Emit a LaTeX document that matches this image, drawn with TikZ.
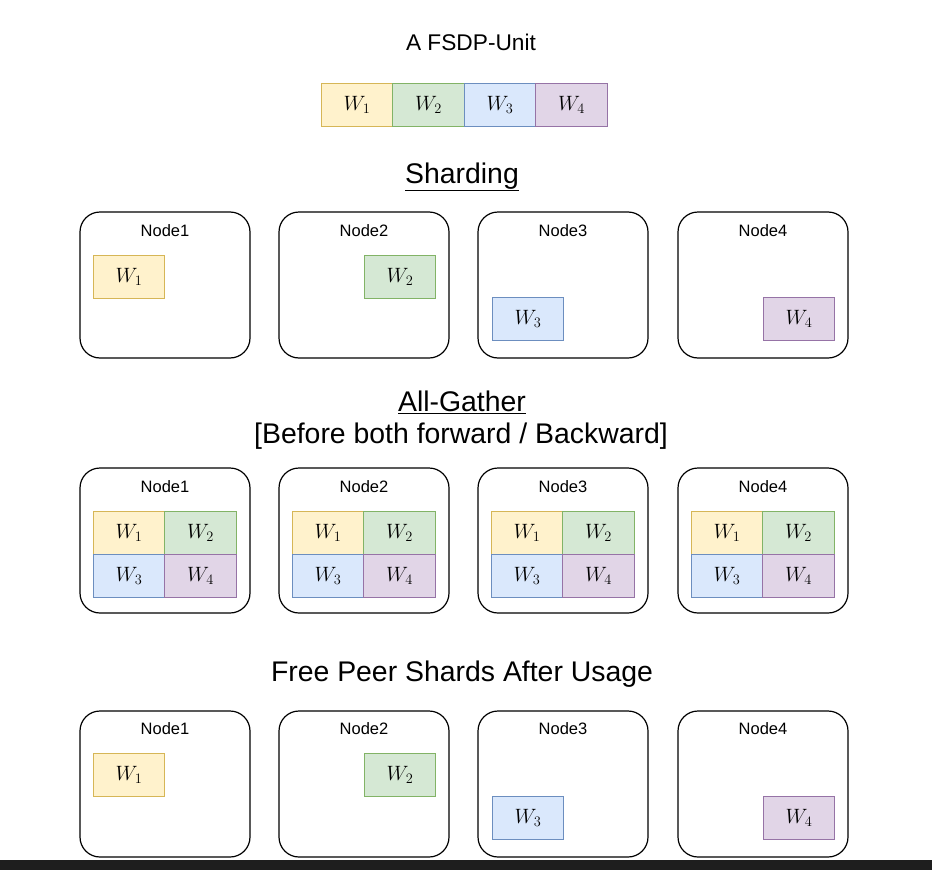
\documentclass[tikz,border=0pt]{standalone}
\usepackage{fontspec}
\setmainfont{Liberation Sans}
\definecolor{yf}{HTML}{FFF2CC}\definecolor{yd}{HTML}{D6B656}
\definecolor{gf}{HTML}{D5E8D4}\definecolor{gd}{HTML}{82B366}
\definecolor{bf}{HTML}{DAE8FC}\definecolor{bd}{HTML}{6C8EBF}
\definecolor{pf}{HTML}{E1D5E7}\definecolor{pd}{HTML}{9673A6}
\definecolor{barc}{HTML}{1E1E1E}
\begin{document}
\begin{tikzpicture}[x=1pt,y=-1pt,
  nodebox/.style={draw, rounded corners=20, line width=1.2, minimum width=170, minimum height=146, inner sep=0},
  nlabel/.style={font=\fontsize{16.5}{19}\selectfont, inner sep=0},
  wcell/.style={draw, line width=0.9, minimum width=71.5, minimum height=43, inner sep=0, font=\fontsize{20}{22}\selectfont},
  wa/.style={wcell, fill=yf, draw=yd},
  wb/.style={wcell, fill=gf, draw=gd},
  wc/.style={wcell, fill=bf, draw=bd},
  wd/.style={wcell, fill=pf, draw=pd},
  head/.style={font=\fontsize{28.4}{32}\selectfont, inner sep=0},
  title/.style={font=\fontsize{22.7}{26}\selectfont, inner sep=0}]
\useasboundingbox (0,0) rectangle (932,870);
\fill[white] (0,0) rectangle (932,870);
\fill[barc] (0,860) rectangle (932,870);
% top unit
\node[title] (ttl) at (471,42) {A FSDP-Unit};
\node[wa] (u1) at (357,105) {$W_1$};
\node[wb] (u2) at (428.5,105) {$W_2$};
\node[wc] (u3) at (500,105) {$W_3$};
\node[wd] (u4) at (571.5,105) {$W_4$};
% Sharding
\node[head] (h1) at (462,177) {\underline{Sharding}};
\foreach \i/\cx in {1/165,2/364,3/563,4/763}{
  \node[nodebox] (a\i) at (\cx,285) {};
  \node[nlabel] (al\i) at (\cx,231) {Node\i};
}
\node[wa] (as1) at (129,276.5) {$W_1$};
\node[wb] (as2) at (400,276.5) {$W_2$};
\node[wc] (as3) at (528,319) {$W_3$};
\node[wd] (as4) at (799,319) {$W_4$};
% All-Gather
\node[head] (h2) at (462,402) {\underline{All-Gather}};
\node[head] (h2b) at (461,436) {[Before both forward / Backward]};
\foreach \i/\cx in {1/165,2/364,3/563,4/763}{
  \node[nodebox, minimum height=145] (b\i) at (\cx,540.5) {};
  \node[nlabel] (bl\i) at (\cx,487) {Node\i};
  \node[wa] (b\i w1) at (\cx-36,532.5) {$W_1$};
  \node[wb] (b\i w2) at (\cx+35.5,532.5) {$W_2$};
  \node[wc] (b\i w3) at (\cx-36,575.5) {$W_3$};
  \node[wd] (b\i w4) at (\cx+35.5,575.5) {$W_4$};
}
% Free
\node[head] (h3) at (462,674) {Free Peer Shards After Usage};
\foreach \i/\cx in {1/165,2/364,3/563,4/763}{
  \node[nodebox] (c\i) at (\cx,784) {};
  \node[nlabel] (cl\i) at (\cx,729) {Node\i};
}
\node[wa] (cs1) at (129,774.5) {$W_1$};
\node[wb] (cs2) at (400,774.5) {$W_2$};
\node[wc] (cs3) at (528,818) {$W_3$};
\node[wd] (cs4) at (799,818) {$W_4$};
\end{tikzpicture}
\end{document}
